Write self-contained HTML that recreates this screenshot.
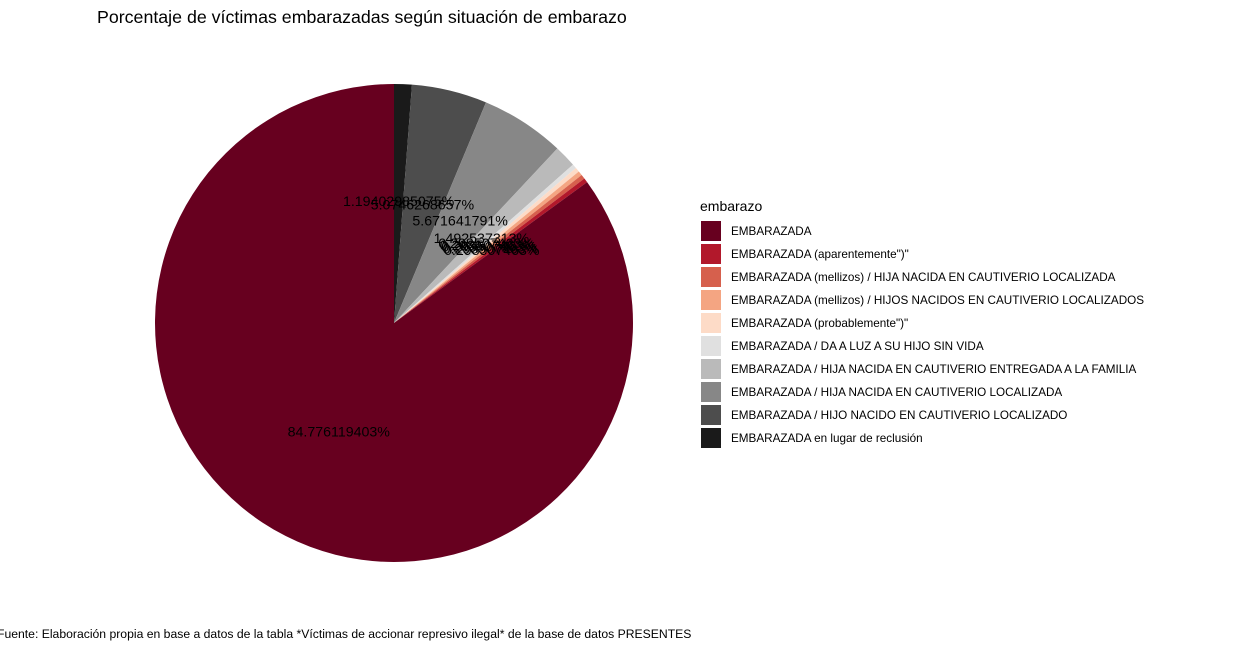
<!DOCTYPE html>
<html><head><meta charset="utf-8"><style>
body{margin:0;background:#fff;width:1242px;height:641px;overflow:hidden;font-family:"Liberation Sans",sans-serif}
</style></head><body>
<svg id="chart" width="1242" height="641" xmlns="http://www.w3.org/2000/svg" font-family="Liberation Sans, sans-serif">
<text x="97" y="23" font-size="17.8" fill="#000">Porcentaje de víctimas embarazadas según situación de embarazo</text>
<g id="slices"></g><g id="labels"></g>
<text x="700" y="211" font-size="14" fill="#000">embarazo</text>
<g id="legend"></g>
<text x="-3" y="638" font-size="12.2" fill="#000">Fuente: Elaboración propia en base a datos de la tabla *Víctimas de accionar represivo ilegal* de la base de datos PRESENTES</text>
</svg>
<script>
const categories=["EMBARAZADA","EMBARAZADA (aparentemente\")\"","EMBARAZADA (mellizos) / HIJA NACIDA EN CAUTIVERIO LOCALIZADA","EMBARAZADA (mellizos) / HIJOS NACIDOS EN CAUTIVERIO LOCALIZADOS","EMBARAZADA (probablemente\")\"","EMBARAZADA / DA A LUZ A SU HIJO SIN VIDA","EMBARAZADA / HIJA NACIDA EN CAUTIVERIO ENTREGADA A LA FAMILIA","EMBARAZADA / HIJA NACIDA EN CAUTIVERIO LOCALIZADA","EMBARAZADA / HIJO NACIDO EN CAUTIVERIO LOCALIZADO","EMBARAZADA en lugar de reclusión"];
const values=[84.776119403,0.298507463,0.298507463,0.298507463,0.298507463,0.298507463,1.492537313,5.671641791,5.074626866,1.194029851];
const valueLabels=["84.776119403%","0.298507463%","0.298507463%","0.298507463%","0.298507463%","0.298507463%","1.492537313%","5.671641791%","5.0746268657%","1.19402985075%"];
const colors=["#67001F","#B2182B","#D6604D","#F4A582","#FDDBC7","#E0E0E0","#BABABA","#878787","#4D4D4D","#1A1A1A"];
const NS="http://www.w3.org/2000/svg";
const cx=394,cy=323,R=239;
const total=values.reduce((a,b)=>a+b,0);
const sl=document.getElementById('slices'),lb=document.getElementById('labels'),lg=document.getElementById('legend');
function pt(a,r){return [cx+r*Math.sin(a),cy-r*Math.cos(a)];}
let acc=0;
for(let k=values.length-1;k>=0;k--){
  const a0=acc/total*2*Math.PI; acc+=values[k]; const a1=acc/total*2*Math.PI;
  const p0=pt(a0,R),p1=pt(a1,R),large=(a1-a0)>Math.PI?1:0;
  const p=document.createElementNS(NS,'path');
  p.setAttribute('d',`M${cx},${cy}L${p0[0]},${p0[1]}A${R},${R} 0 ${large} 1 ${p1[0]},${p1[1]}Z`);
  p.setAttribute('fill',colors[k]);
  
  
  sl.appendChild(p);
  const m=pt((a0+a1)/2,R*0.51);
  const t=document.createElementNS(NS,'text');
  t.setAttribute('x',m[0]);t.setAttribute('y',m[1]+5);t.setAttribute('font-size','14.2');
  t.setAttribute('text-anchor','middle');t.textContent=valueLabels[k];
  
  
  lb.appendChild(t);
}
categories.forEach((c,i)=>{
  const y=221+i*23;
  const r=document.createElementNS(NS,'rect');
  r.setAttribute('x',701);r.setAttribute('y',y);r.setAttribute('width',20);r.setAttribute('height',20);r.setAttribute('fill',colors[i]);
  
  
  lg.appendChild(r);
  const t=document.createElementNS(NS,'text');
  t.setAttribute('x',731);t.setAttribute('y',y+14);t.setAttribute('font-size','11.7');t.textContent=c;
  
  
  lg.appendChild(t);
});
</script>
</body></html>
